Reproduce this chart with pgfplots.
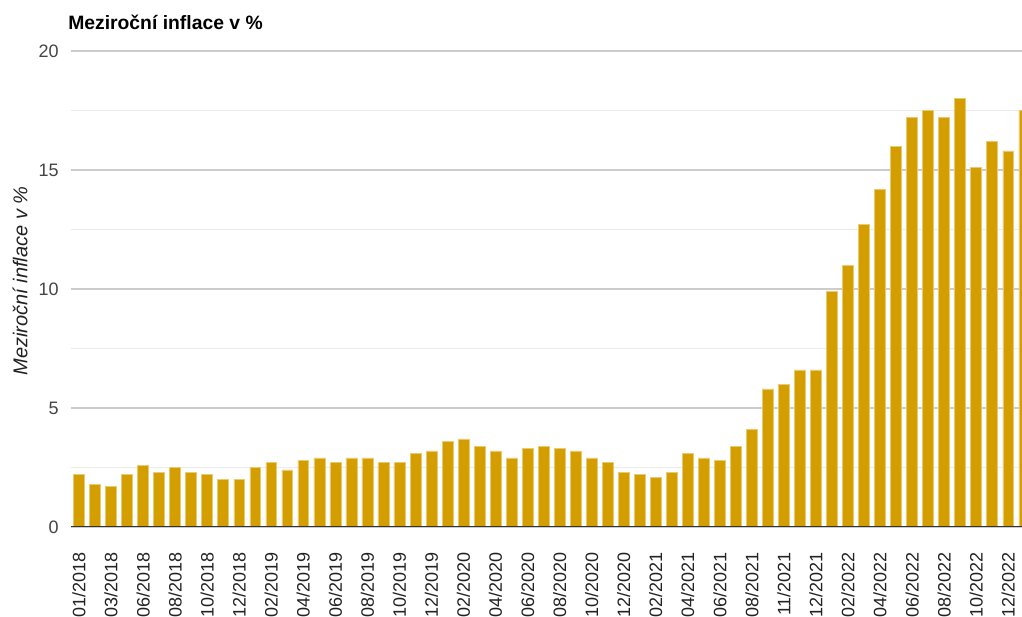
\documentclass[border=0pt]{standalone}
\usepackage{fontspec}
\setmainfont{Liberation Sans}
\usepackage{pgfplots}
\pgfplotsset{compat=1.18}
\usepackage{pgfplotstable}

\definecolor{barcol}{RGB}{213,158,0}
\definecolor{gridmaj}{RGB}{204,204,204}
\definecolor{gridmin}{RGB}{235,235,235}
\definecolor{ticktext}{RGB}{68,68,68}
\definecolor{datetext}{RGB}{34,34,34}

% year-on-year inflation, one row per bar
\pgfplotstableread{
x y
0 2.2
1 1.8
2 1.7
3 2.2
4 2.6
5 2.3
6 2.5
7 2.3
8 2.2
9 2.0
10 2.0
11 2.5
12 2.7
13 2.4
14 2.8
15 2.9
16 2.7
17 2.9
18 2.9
19 2.7
20 2.7
21 3.1
22 3.2
23 3.6
24 3.7
25 3.4
26 3.2
27 2.9
28 3.3
29 3.4
30 3.3
31 3.2
32 2.9
33 2.7
34 2.3
35 2.2
36 2.1
37 2.3
38 3.1
39 2.9
40 2.8
41 3.4
42 4.1
43 5.8
44 6.0
45 6.6
46 6.6
47 9.9
48 11.0
49 12.7
50 14.2
51 16.0
52 17.2
53 17.5
54 17.2
55 18.0
56 15.1
57 16.2
58 15.8
59 17.5
}\inflace

\begin{document}
\begin{tikzpicture}
\path[use as bounding box] (0,0) rectangle (766.5pt,462.75pt);
\begin{axis}[
  scale only axis,
  width=713.25pt, height=357pt,
  at={(53.25pt,67.5pt)}, anchor=south west,
  xmin=-0.5, xmax=58.86, ymin=0, ymax=20,
  ybar, bar width=0.68,
  axis line style={draw=none},
  major tick length=0pt, minor tick length=0pt,
  ytick={0,5,10,15,20},
  minor ytick={2.5,7.5,12.5,17.5},
  ymajorgrids, yminorgrids,
  major grid style={draw=gridmaj, line width=1pt},
  minor grid style={draw=gridmin, line width=1pt},
  xtick={0,2,...,58},
  xticklabels={01/2018,03/2018,06/2018,08/2018,10/2018,12/2018,
    02/2019,04/2019,06/2019,08/2019,10/2019,12/2019,
    02/2020,04/2020,06/2020,08/2020,10/2020,12/2020,
    02/2021,04/2021,06/2021,08/2021,11/2021,12/2021,
    02/2022,04/2022,06/2022,08/2022,10/2022,12/2022},
  /pgf/number format/assume math mode=true,
  tick label style={font=\fontsize{13.5}{16}\selectfont, text=ticktext},
  xticklabel style={rotate=90, anchor=east, inner sep=0pt, text=datetext},
  xticklabel shift=18.75pt,
  yticklabel style={anchor=east, inner sep=0pt},
  yticklabel shift=9pt,
  clip=true,
]
\addplot[ybar, fill=barcol, draw=barcol!55!white, line width=0.4pt] table[x=x, y=y] {\inflace};
% zero baseline over the bars
\draw[black!80, line width=1.1pt] (rel axis cs:0,0) -- (rel axis cs:1,0);
\end{axis}
\node[anchor=west, inner sep=0pt, font=\bfseries\fontsize{14.5}{17}\selectfont] at (51pt,446.25pt) {Meziroční inflace v \%};
\node[rotate=90, inner sep=0pt, text=black!87, font=\itshape\fontsize{15}{18}\selectfont] at (15pt,252pt) {Meziroční inflace v \%};
\end{tikzpicture}
\end{document}
